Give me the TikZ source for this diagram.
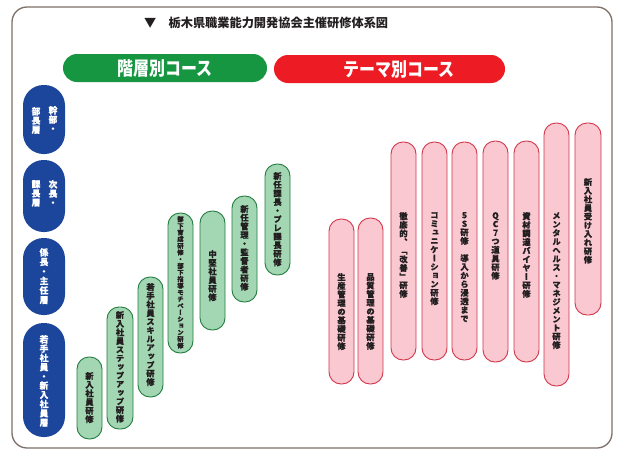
\documentclass[tikz,border=0pt]{standalone}
\usepackage{fontspec}
\newfontfamily\jp{Noto Sans CJK JP}
\newfontfamily\jpv{Noto Sans CJK JP}[RawFeature=+vert, BoldFeatures={FakeBold=0.5}]
\newfontfamily\jpc{Noto Sans CJK JP}[FakeStretch=0.84]
\definecolor{ggreen}{RGB}{22,150,65}
\definecolor{gred}{RGB}{237,28,36}
\definecolor{gblue}{RGB}{28,70,155}
\definecolor{gfill}{RGB}{163,214,178}
\definecolor{gline}{RGB}{35,125,65}
\definecolor{rfill}{RGB}{249,200,209}
\definecolor{rline}{RGB}{210,55,75}
\definecolor{framec}{RGB}{125,112,104}
\definecolor{ink}{RGB}{35,31,32}
\ExplSyntaxOn
\NewDocumentCommand \vtext { O{1.04} m }
  {
    \vbox
      {
        \baselineskip = #1 em \relax
        \lineskip = 0pt \relax
        \lineskiplimit = -\maxdimen \relax
        \tl_map_inline:nn {#2} { \hbox to 1em { \hss ##1 \hss } }
      }
  }
\ExplSyntaxOff
\newcommand\course[9]{%
  \node[#2, minimum width={#5-#4}, minimum height={#7-#6}] (#1) at ({(#4+#5)/2},{(#6+#7)/2}) {};
  \node[#3, anchor=north] (#1t) at ({(#4+#5)/2},#8) {\vtext{#9}};
}
\begin{document}
\begin{tikzpicture}[x=1pt,y=-1pt,
  gpill/.style={draw=gline, fill=gfill, line width=0.9pt, rounded corners=12pt, inner sep=0pt},
  rpill/.style={draw=rline, fill=rfill, line width=0.9pt, rounded corners=12pt, inner sep=0pt},
  bpill/.style={fill=gblue, rounded corners=20.5pt, inner sep=0pt},
  ptxt/.style={inner sep=0pt, text=ink, font=\jpv\bfseries\fontsize{8.3}{9}\selectfont},
  stxt/.style={inner sep=0pt, text=ink, font=\jpv\bfseries\fontsize{6.4}{7}\selectfont},
  btxt/.style={inner sep=0pt, text=white, font=\jpv\bfseries\fontsize{8.8}{9}\selectfont},
  banner/.style={inner sep=0pt, minimum height=28pt, rounded corners=14pt},
  btitle/.style={inner sep=0pt, text=white, font=\jpc\bfseries\fontsize{19}{20}\selectfont}]
\useasboundingbox (0,0) rectangle (622,458);
\fill[white] (0,0) rectangle (622,458);
\draw[framec, line width=1.3pt, rounded corners=15pt] (12,7) rectangle (612,448);
\node[anchor=west, inner sep=0pt, text=ink, font=\jp\bfseries\fontsize{12.2}{13}\selectfont] (title) at (144,23) {▼　栃木県職業能力開発協会主催研修体系図};
% banners
\node[banner, fill=ggreen, minimum width=204pt] (hier) at (165,68) {};
\node[btitle] (hiert) at (165,68.5) {階層別コース};
\node[banner, fill=gred, minimum width=231pt] (theme) at (389.5,69) {};
\node[btitle] (themet) at (399,69.5) {テーマ別コース};
% level pills
\node[bpill, minimum width=42pt, minimum height=69pt] (b1) at (44,119.5) {};
\node[btxt, anchor=north] (b1r) at (53,106) {\vtext{幹部・}};
\node[btxt, anchor=north] (b1l) at (36,107) {\vtext{部長層}};
\node[bpill, minimum width=42pt, minimum height=72pt] (b2) at (44,196) {};
\node[btxt, anchor=north] (b2r) at (53,180) {\vtext{次長・}};
\node[btxt, anchor=north] (b2l) at (36,180) {\vtext{課長層}};
\node[bpill, minimum width=42pt, minimum height=77pt] (b3) at (44,276.5) {};
\node[btxt, anchor=north] (b3t) at (44,248) {\vtext[1.08]{係長・主任層}};
\node[bpill, minimum width=42pt, minimum height=114pt] (b4) at (44,380) {};
\node[btxt, anchor=north] (b4t) at (44,335) {\vtext[1.05]{若手社員・新入社員層}};
% hierarchical courses
\course{g1}{gpill}{ptxt}{77}{102}{357}{439}{372}{新入社員研修}
\course{g2}{gpill}{ptxt}{107}{133}{307}{429}{311}{新入社員ステップアップ研修}
\course{g3}{gpill}{ptxt}{138}{163}{277}{397}{283}{若手社員スキルアップ研修}
\course{g4}{gpill}{stxt}{168}{193}{213}{353}{216}{部下育成研修・部下指導モチベーション研修}
\course{g5}{gpill}{ptxt}{200}{225}{211}{330}{250}{中堅社員研修}
\course{g6}{gpill}{ptxt}{232}{257}{196}{302}{205}{新任管理・監督者研修}
\course{g7}{gpill}{ptxt}{265}{290}{164}{275}{172}{新任課長・プレ課長研修}
% theme courses
\course{r1}{rpill}{ptxt}{329}{354}{219}{384}{273}{生産管理の基礎研修}
\course{r2}{rpill}{ptxt}{358}{383}{218}{384}{273}{品質管理の基礎研修}
\course{r3}{rpill}{ptxt}{391}{416}{142}{360}{212}{徹底的、「改善」研修}
\course{r4}{rpill}{ptxt}{422}{447}{142}{360}{212}{コミュニケーション研修}
\course{r5}{rpill}{ptxt}{452}{477}{142}{360}{212}{5S研修　導入から浸透まで}
\course{r6}{rpill}{ptxt}{483}{508}{141}{362}{212}{QC7つ道具研修}
\course{r7}{rpill}{ptxt}{514}{539}{141}{362}{212}{資材調達バイヤー研修}
\course{r8}{rpill}{ptxt}{544}{569}{123}{386}{212}{メンタルヘルス・マネジメント研修}
\course{r9}{rpill}{ptxt}{575}{601}{123}{315}{178}{新入社員受け入れ研修}
\end{tikzpicture}
\end{document}
